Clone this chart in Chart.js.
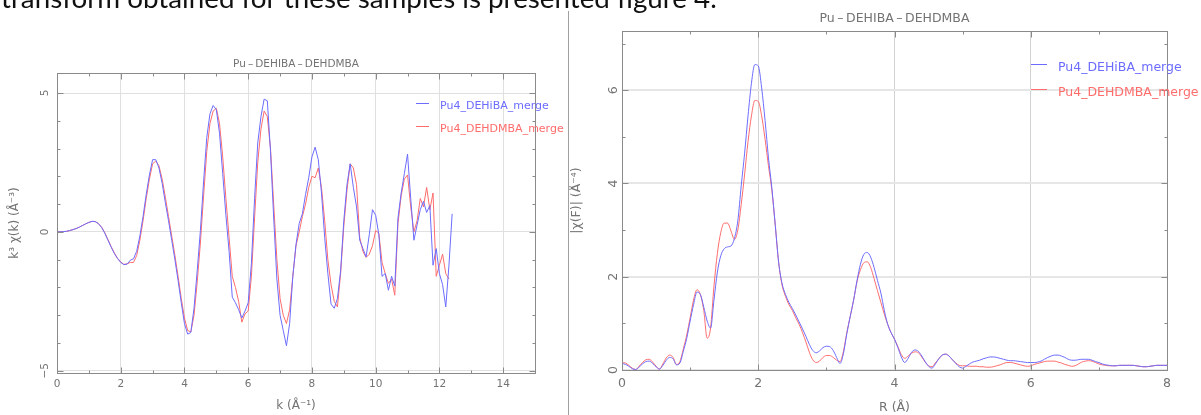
<!DOCTYPE html>
<html>
<head>
<meta charset="utf-8">
<script src="https://cdn.jsdelivr.net/npm/chart.js@4.4.1/dist/chart.umd.min.js"></script>
<style>
  html, body { margin: 0; padding: 0; background: #fff; }
  body { width: 1201px; height: 415px; position: relative; overflow: hidden; }
  #topText { position: absolute; left: 0; top: 0; }
  #divider { position: absolute; left: 568px; top: 11px; width: 1px; height: 404px; background: #a0a0a0; }
  #left { position: absolute; left: 0; top: 0; }
  #right { position: absolute; left: 569px; top: 0; }
</style>
</head>
<body>
<canvas id="topText" width="760" height="20"></canvas>
<div id="divider"></div>
<canvas id="left" width="568" height="415"></canvas>
<canvas id="right" width="632" height="415"></canvas>
<script>
// EXAFS k^3 chi(k), sampled every 0.1 A^-1 from k = 0
const kStep = 0.1;
const chiDEHiBA = [
  0.00, 0.00, 0.01, 0.02, 0.05, 0.08, 0.12, 0.17, 0.23, 0.29,
  0.34, 0.38, 0.37, 0.30, 0.16, -0.05, -0.30, -0.55, -0.78, -0.96,
  -1.10, -1.18, -1.16, -1.02, -0.97, -0.70, -0.15, 0.55, 1.35, 2.05,
  2.60, 2.60, 2.30, 1.75, 1.05, 0.40, -0.30, -1.00, -1.75, -2.55,
  -3.30, -3.68, -3.62, -2.75, -1.40, 0.05, 1.80, 3.40, 4.25, 4.55,
  4.40, 3.55, 2.10, 0.60, -0.70, -2.35, -2.55, -2.80, -3.10, -2.85,
  -2.55, -1.15, 1.20, 3.20, 4.15, 4.78, 4.72, 2.90, 0.50, -1.70,
  -3.00, -3.55, -4.10, -3.30, -1.60, -0.45, 0.30, 0.65, 1.35, 1.95,
  2.70, 3.05, 2.60, 1.40, -0.20, -1.50, -2.60, -2.75, -2.40, -1.40,
  0.40, 1.70, 2.45, 1.60, 0.90, -0.30, -0.60, -0.90, -0.10, 0.80,
  0.60, -0.10, -1.60, -1.50, -2.10, -1.60, -1.95, 0.50, 1.40, 2.10,
  2.80, 1.20, -0.30, 0.25, 0.80, 1.10, 0.70, 0.95, -1.20, -0.60,
  -1.50, -1.90, -2.70, -1.20, 0.65
];
const chiDEHDMBA = [
  0.00, 0.00, 0.01, 0.02, 0.05, 0.08, 0.12, 0.17, 0.23, 0.29,
  0.34, 0.38, 0.37, 0.30, 0.17, -0.03, -0.28, -0.53, -0.76, -0.95,
  -1.08, -1.17, -1.15, -1.10, -1.10, -0.85, -0.30, 0.40, 1.20, 1.90,
  2.45, 2.55, 2.38, 1.90, 1.25, 0.55, -0.15, -0.85, -1.60, -2.40,
  -3.10, -3.55, -3.60, -3.00, -1.80, -0.40, 1.30, 2.90, 3.90, 4.35,
  4.45, 3.90, 2.70, 1.20, -0.20, -1.60, -2.00, -2.50, -3.25, -2.95,
  -2.85, -1.60, 0.50, 2.50, 3.70, 4.35, 4.15, 3.00, 1.00, -1.00,
  -2.40, -3.00, -3.30, -2.80, -1.60, -0.50, 0.00, 0.55, 1.00, 1.60,
  2.00, 1.95, 2.30, 1.60, 0.40, -1.00, -1.90, -2.50, -2.70, -1.50,
  0.20, 1.50, 2.45, 2.30, 1.70, -0.20, -0.70, -0.92, -0.80, -0.50,
  0.05, -0.05, -1.10, -1.50, -1.85, -1.70, -2.28, 0.30, 1.30, 1.90,
  2.05, 0.90, 0.00, 0.40, 1.20, 0.90, 1.60, 0.80, 1.40, -1.60,
  -1.20, -0.80, -1.50, -1.70
];

// Fourier transform magnitude, sampled every 0.05 A from R = 0
const rStep = 0.05;
const ftDEHiBA = [
  0.14, 0.12, 0.08, 0.03, 0.01, 0.06, 0.13, 0.18, 0.19, 0.14,
  0.07, 0.02, 0.10, 0.21, 0.27, 0.24, 0.11, 0.15, 0.40, 0.68,
  1.05, 1.40, 1.67, 1.62, 1.35, 1.05, 0.90, 1.50, 2.10, 2.45,
  2.60, 2.64, 2.66, 2.82, 3.20, 3.95, 4.65, 5.45, 6.15, 6.55,
  6.52, 6.05, 5.35, 4.55, 3.90, 3.10, 2.30, 1.85, 1.62, 1.45,
  1.32, 1.18, 1.03, 0.88, 0.72, 0.55, 0.42, 0.37, 0.41, 0.48,
  0.51, 0.50, 0.42, 0.27, 0.14, 0.35, 0.78, 1.15, 1.50, 1.92,
  2.27, 2.48, 2.52, 2.42, 2.20, 1.92, 1.65, 1.28, 0.98, 0.80,
  0.66, 0.48, 0.28, 0.16, 0.25, 0.38, 0.43, 0.40, 0.30, 0.18,
  0.08, 0.04, 0.13, 0.24, 0.32, 0.34, 0.30, 0.22, 0.14, 0.07,
  0.04, 0.08, 0.13, 0.17, 0.19, 0.21, 0.24, 0.26, 0.28, 0.28,
  0.27, 0.25, 0.23, 0.21, 0.20, 0.20, 0.19, 0.18, 0.17, 0.16,
  0.16, 0.16, 0.17, 0.19, 0.23, 0.27, 0.30, 0.32, 0.32, 0.30,
  0.27, 0.23, 0.21, 0.21, 0.22, 0.23, 0.23, 0.23, 0.21, 0.18,
  0.16, 0.13, 0.11, 0.10, 0.09, 0.09, 0.10, 0.10, 0.10, 0.10,
  0.10, 0.09, 0.08, 0.07, 0.07, 0.08, 0.09, 0.10, 0.10, 0.10,
  0.10
];
const ftDEHDMBA = [
  0.16, 0.15, 0.10, 0.04, 0.01, 0.08, 0.16, 0.22, 0.23, 0.17,
  0.08, 0.02, 0.13, 0.26, 0.32, 0.27, 0.12, 0.18, 0.45, 0.75,
  1.12, 1.50, 1.72, 1.62, 1.28, 0.68, 0.90, 1.80, 2.50, 2.95,
  3.15, 3.15, 2.98, 2.80, 3.00, 3.55, 4.20, 4.90, 5.45, 5.78,
  5.76, 5.45, 4.95, 4.38, 3.85, 3.10, 2.30, 1.82, 1.58, 1.40,
  1.28, 1.12, 0.98, 0.80, 0.60, 0.38, 0.22, 0.16, 0.19, 0.27,
  0.31, 0.31, 0.27, 0.21, 0.18, 0.40, 0.80, 1.15, 1.50, 1.90,
  2.15, 2.30, 2.32, 2.20, 1.96, 1.70, 1.45, 1.20, 0.98, 0.80,
  0.66, 0.50, 0.33, 0.25, 0.30, 0.36, 0.39, 0.37, 0.28, 0.17,
  0.09, 0.07, 0.15, 0.24, 0.32, 0.34, 0.30, 0.22, 0.15, 0.10,
  0.09, 0.09, 0.08, 0.08, 0.08, 0.07, 0.07, 0.06, 0.06, 0.07,
  0.09, 0.11, 0.14, 0.16, 0.16, 0.15, 0.13, 0.11, 0.09, 0.08,
  0.09, 0.12, 0.14, 0.16, 0.18, 0.19, 0.19, 0.19, 0.17, 0.15,
  0.12, 0.10, 0.08, 0.09, 0.13, 0.17, 0.19, 0.20, 0.19, 0.16,
  0.13, 0.11, 0.10, 0.09, 0.09, 0.09, 0.10, 0.10, 0.10, 0.10,
  0.10, 0.09, 0.08, 0.07, 0.07, 0.08, 0.09, 0.10, 0.10, 0.10,
  0.10
];

const seriesLabels = ['Pu4_DEHiBA_merge', 'Pu4_DEHDMBA_merge'];
const seriesColors = ['rgb(108,108,255)', 'rgb(255,108,108)'];
const chartTitle = 'Pu\u2009\u2013\u2009DEHIBA\u2009\u2013\u2009DEHDMBA';
const pageText = 'transform obtained for these samples is presented figure 4.';

const GREY = '#737373';

function toPoints(values, step) {
  return values.map((v, i) => ({ x: +(i * step).toFixed(2), y: v }));
}

function fmt(v) {
  return v < 0 ? '\u2212' + Math.abs(v) : String(v);
}

// box, inward tick marks, title and legend
const framePlugin = {
  id: 'frame',
  afterDraw(chart, args, o) {
    const { ctx, chartArea: a, scales } = chart;
    const L = Math.round(a.left) + 0.5, R = Math.round(a.right) + 0.5;
    const T = Math.round(a.top) + 0.5, B = Math.round(a.bottom) + 0.5;
    const seg = (x1, y1, x2, y2) => { ctx.beginPath(); ctx.moveTo(x1, y1); ctx.lineTo(x2, y2); ctx.stroke(); };
    ctx.save();
    ctx.strokeStyle = '#8a8a8a';
    ctx.lineWidth = 1;
    ctx.strokeRect(L, T, R - L, B - T);
    scales.x.ticks.forEach(t => {
      const px = Math.round(scales.x.getPixelForValue(t.value)) + 0.5;
      const len = t.value % o.xMajor === 0 ? 6 : 3;
      seg(px, B, px, B - len);
      seg(px, T, px, T + len);
    });
    scales.y.ticks.forEach(t => {
      const py = Math.round(scales.y.getPixelForValue(t.value)) + 0.5;
      const len = t.value % o.yMajor === 0 ? 6 : 3;
      seg(L, py, L + len, py);
      seg(R, py, R - len, py);
    });
    ctx.fillStyle = GREY;
    ctx.font = o.titleFont;
    ctx.textAlign = 'center';
    ctx.textBaseline = 'middle';
    ctx.fillText(chartTitle, (a.left + a.right) / 2, o.titleY);
    ctx.font = o.legendFont;
    ctx.textAlign = 'left';
    chart.data.datasets.forEach((ds, i) => {
      const y = Math.round(o.legendY + i * o.legendGap) + 0.5;
      ctx.strokeStyle = ds.borderColor;
      seg(o.legendX, y, o.legendX + o.legendLen, y);
      ctx.fillStyle = ds.borderColor;
      ctx.fillText(ds.label, o.legendTextX, y + o.legendTextDy);
    });
    ctx.restore();
  }
};

function makeChart(id, o) {
  const font = { family: 'DejaVu Sans', size: o.fontSize };
  const titleFont = { family: 'DejaVu Sans', size: o.axisTitleSize };
  return new Chart(document.getElementById(id), {
    type: 'line',
    data: {
      datasets: o.series.map((vals, i) => ({
        label: seriesLabels[i],
        data: toPoints(vals, o.step),
        borderColor: seriesColors[i],
        borderWidth: 1,
        pointRadius: 0,
        cubicInterpolationMode: o.smooth ? 'monotone' : 'default',
        tension: 0
      }))
    },
    options: {
      responsive: false,
      animation: false,
      layout: { padding: { left: 0, top: o.areaTop, right: o.padRight, bottom: 0 } },
      plugins: {
        legend: { display: false },
        tooltip: { enabled: false },
        frame: o.frame
      },
      scales: {
        x: {
          type: 'linear', min: o.xMin, max: o.xMax,
          afterFit: s => { s.height = o.xAxisHeight; },
          border: { display: false },
          grid: {
            drawTicks: false,
            lineWidth: o.xGridWidth,
            color: c => (c.tick && c.tick.value % o.frame.xMajor === 0) ? o.xGridColor : 'rgba(0,0,0,0)'
          },
          ticks: {
            stepSize: 1, includeBounds: false, autoSkip: false, maxRotation: 0,
            padding: o.xTickPad, color: GREY, font,
            callback: v => v % o.frame.xMajor === 0 ? fmt(v) : ''
          },
          title: { display: true, text: o.xTitle, color: GREY, font: titleFont, padding: { top: 0, bottom: o.xTitlePad } }
        },
        y: {
          type: 'linear', min: o.yMin, max: o.yMax,
          afterFit: s => { s.width = o.yAxisWidth; },
          border: { display: false },
          grid: {
            drawTicks: false,
            lineWidth: o.yGridWidth,
            color: c => (c.tick && c.tick.value % o.frame.yMajor === 0) ? o.yGridColor : 'rgba(0,0,0,0)'
          },
          ticks: {
            stepSize: 1, includeBounds: false, autoSkip: false,
            minRotation: 90, maxRotation: 90, crossAlign: 'center',
            padding: o.yTickPad, color: GREY, font,
            callback: v => v % o.frame.yMajor === 0 ? fmt(v) : ''
          },
          title: { display: true, text: o.yTitle, color: GREY, font: titleFont, padding: { top: o.yTitlePad, bottom: 0 } }
        }
      }
    },
    plugins: [framePlugin]
  });
}

// page text cut off at the top
(function () {
  const ctx = document.getElementById('topText').getContext('2d');
  ctx.font = '100px Lato';
  const w = ctx.measureText(pageText).width;
  ctx.font = (100 * 716 / w).toFixed(2) + 'px Lato';
  ctx.fillStyle = '#111';
  ctx.textBaseline = 'alphabetic';
  ctx.fillText(pageText, 1, 8);
})();

makeChart('left', {
  series: [chiDEHiBA, chiDEHDMBA], step: kStep, smooth: false,
  xMin: 0, xMax: 15, yMin: -5.08, yMax: 5.72,
  areaTop: 73, padRight: 33, xAxisHeight: 42, yAxisWidth: 57,
  fontSize: 10.5, axisTitleSize: 12, xTickPad: 5, yTickPad: 4,
  xGridColor: '#e0e0e0', xGridWidth: 1, yGridColor: '#e0e0e0', yGridWidth: 1,
  xTitle: 'k (\u00c5\u207b\u00b9)', xTitlePad: 2,
  yTitle: 'k\u00b3 \u03c7(k) (\u00c5\u207b\u00b3)', yTitlePad: 7.5,
  frame: {
    xMajor: 2, yMajor: 5, titleY: 64, titleFont: '10.5px "DejaVu Sans"',
    legendFont: '11px "DejaVu Sans"', legendX: 416, legendLen: 13, legendY: 103, legendGap: 22.5,
    legendTextX: 440, legendTextDy: 3
  }
});

makeChart('right', {
  series: [ftDEHiBA, ftDEHDMBA], step: rStep, smooth: true,
  xMin: 0, xMax: 8, yMin: 0, yMax: 7.27,
  areaTop: 31, padRight: 34, xAxisHeight: 45, yAxisWidth: 53,
  fontSize: 12.5, axisTitleSize: 12.5, xTickPad: 6, yTickPad: 4,
  xGridColor: '#d2d2d2', xGridWidth: 1, yGridColor: '#e6e6e6', yGridWidth: 2,
  xTitle: 'R (\u00c5)', xTitlePad: 0,
  yTitle: '|\u03c7(F)| (\u00c5\u207b\u2074)', yTitlePad: 0,
  frame: {
    xMajor: 2, yMajor: 2, titleY: 19, titleFont: '12.5px "DejaVu Sans"',
    legendFont: '12.5px "DejaVu Sans"', legendX: 462, legendLen: 16, legendY: 64, legendGap: 25.3,
    legendTextX: 489, legendTextDy: 3.5
  }
});
</script>
</body>
</html>
